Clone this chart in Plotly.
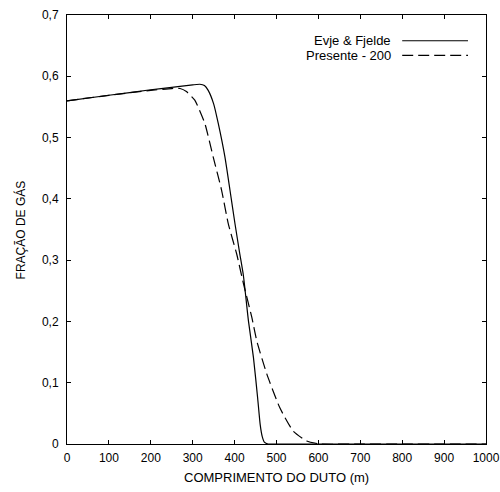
import plotly.graph_objects as go

# Evje & Fjelde (solid)
evje_x = [0, 100, 200, 250, 300, 317, 328, 337, 350, 361, 377, 389, 401, 412, 421, 433, 445, 455, 461, 466, 471, 480, 500, 600, 700, 800, 900, 1000]
evje_y = [0.560, 0.569, 0.578, 0.582, 0.586, 0.587, 0.585, 0.577, 0.555, 0.523, 0.468, 0.414, 0.359, 0.312, 0.275, 0.201, 0.141, 0.075, 0.032, 0.012, 0.003, 0.0, 0.0, 0.0, 0.0, 0.0, 0.0, 0.0]

# Presente - 200 (dashed)
pres_x = [0, 100, 200, 250, 270, 285, 305, 329, 349, 369, 385, 405, 421, 441, 453, 477, 508, 540, 572, 604, 700, 800, 900, 1000]
pres_y = [0.560, 0.569, 0.577, 0.580, 0.580, 0.575, 0.561, 0.523, 0.468, 0.414, 0.359, 0.310, 0.262, 0.207, 0.168, 0.114, 0.059, 0.021, 0.005, 0.0, 0.0, 0.0, 0.0, 0.0]

series_names = ["Evje & Fjelde", "Presente - 200"]
x_ticks = [0, 100, 200, 300, 400, 500, 600, 700, 800, 900, 1000]
y_ticks = [0, 0.1, 0.2, 0.3, 0.4, 0.5, 0.6, 0.7]
x_title = "COMPRIMENTO DO DUTO (m)"
y_title = "FRAÇÃO DE GÁS"

FONT = "Liberation Sans, Arial, sans-serif"
DASH = "11px,5px"

fig = go.Figure()
fig.add_trace(go.Scatter(x=evje_x, y=evje_y, mode="lines", name=series_names[0],
                         line=dict(color="black", width=1.2, shape="spline", smoothing=0.5)))
fig.add_trace(go.Scatter(x=pres_x, y=pres_y, mode="lines", name=series_names[1],
                         line=dict(color="black", width=1.2, dash=DASH, shape="spline", smoothing=0.5)))

axis_common = dict(showline=True, linecolor="black", linewidth=1, mirror="ticks",
                   ticks="inside", ticklen=4, tickcolor="black", showgrid=False,
                   zeroline=False, automargin=False, ticklabeloverflow="allow",
                   tickfont=dict(family=FONT, size=12, color="black"))

fig.update_xaxes(range=[0, 1000], tickvals=x_ticks, ticklabelstandoff=3, **axis_common)
fig.update_yaxes(range=[0, 0.7], tickvals=y_ticks, tickformat=".1~f", ticklabelstandoff=5, **axis_common)

# axis titles
fig.add_annotation(xref="paper", yref="paper", x=0.5, y=-0.079, text=x_title, showarrow=False,
                   xanchor="center", yanchor="middle",
                   font=dict(family=FONT, size=13, color="black"))
fig.add_annotation(xref="paper", yref="paper", x=-0.11, y=0.5, text=y_title, showarrow=False,
                   textangle=-90, xanchor="center", yanchor="middle",
                   font=dict(family=FONT, size=12, color="black"))

# legend: text right-aligned, line sample on the right
leg_y = [0.940, 0.906]
for name, yy, dash in zip(series_names, leg_y, ["solid", DASH]):
    fig.add_annotation(xref="paper", yref="paper", x=0.778, y=yy, text=name, showarrow=False,
                       xanchor="right", yanchor="middle",
                       font=dict(family=FONT, size=13, color="black"))
    fig.add_shape(type="line", xref="paper", yref="paper", x0=0.800, x1=0.957, y0=yy, y1=yy,
                  line=dict(color="black", width=1.2, dash=dash))

fig.update_layout(width=500, height=492, showlegend=False,
                  margin=dict(l=67, r=14, t=15, b=48),
                  plot_bgcolor="white", paper_bgcolor="white",
                  separators=",.",
                  font=dict(family=FONT, size=12, color="black"))

fig.write_html("out.html", config={"displayModeBar": False},
               post_script="document.body.style.margin='0';document.body.style.overflow='hidden';")
